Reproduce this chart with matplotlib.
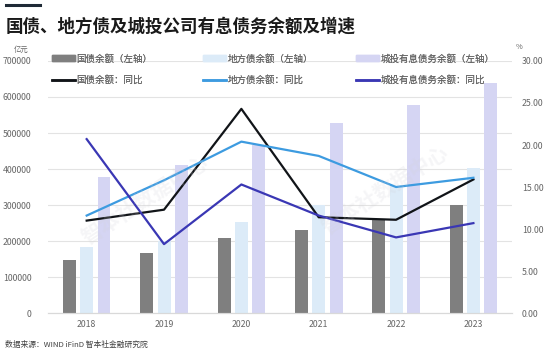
import numpy as np
import matplotlib
matplotlib.use("Agg")
import matplotlib.pyplot as plt
from matplotlib.lines import Line2D
from matplotlib.patches import Patch

plt.rcParams['font.family'] = ['Noto Sans CJK SC', 'DejaVu Sans']

# data
years = ['2018', '2019', '2020', '2021', '2022', '2023']
guozhai = [148000, 167000, 208000, 231000, 257000, 299000]        # 国债余额
difang = [183000, 200000, 254000, 299000, 352000, 404000]         # 地方债余额
chengtou = [377000, 410000, 466000, 529000, 577000, 638000]       # 城投有息债务余额
guozhai_yoy = [11.0, 12.3, 24.3, 11.4, 11.1, 15.9]
difang_yoy = [11.6, 15.8, 20.4, 18.7, 15.0, 16.1]
chengtou_yoy = [20.7, 8.2, 15.3, 11.6, 9.0, 10.7]

c_gz, c_df, c_ct = '#7f7f7f', '#dcebf8', '#d5d5f3'
l_gz, l_df, l_ct = '#111418', '#3d9be0', '#3a37b4'
txt = '#666666'

fig = plt.figure(figsize=(5.53, 3.53), dpi=100)
ax = fig.add_axes([0.0868, 0.1133, 0.8392, 0.7139])
ax2 = ax.twinx()

x = np.arange(len(years))
w = 0.168
off = 0.224
ax.bar(x - off, guozhai, w, color=c_gz, zorder=2)
ax.bar(x, difang, w, color=c_df, zorder=2)
ax.bar(x + off, chengtou, w, color=c_ct, zorder=2)

ax.set_ylim(0, 700000)
ax.set_xlim(-0.5, len(years) - 0.5)
ax.set_yticks(np.arange(0, 700001, 100000))
ax.set_yticklabels([f'{v:d}' for v in range(0, 700001, 100000)])
ax.set_xticks(x)
ax.set_xticklabels(years)
ax.grid(axis='y', color='#e3e3e3', lw=0.8, zorder=0)
ax.set_axisbelow(True)

ax2.plot(x, guozhai_yoy, color=l_gz, lw=1.6, zorder=3)
ax2.plot(x, difang_yoy, color=l_df, lw=1.6, zorder=3)
ax2.plot(x, chengtou_yoy, color=l_ct, lw=1.6, zorder=3)
ax2.set_ylim(0, 30)
ax2.set_yticks(np.arange(0, 31, 5))
ax2.set_yticklabels([f'{v:.2f}' for v in range(0, 31, 5)])

for a in (ax, ax2):
    for s in ('top', 'left', 'right'):
        a.spines[s].set_visible(False)
    a.spines['bottom'].set_color('#d9d9d9')
    a.tick_params(length=0, labelsize=6.3, labelcolor=txt)
ax.tick_params(axis='y', pad=12)
ax2.tick_params(axis='y', pad=7)
ax.tick_params(axis='x', pad=5)

# legends: one per column, bar above line
bar_h = [Patch(color=c_gz), Patch(color=c_df), Patch(color=c_ct)]
line_h = [Line2D([], [], color=l_gz, lw=1.8), Line2D([], [], color=l_df, lw=1.8),
          Line2D([], [], color=l_ct, lw=1.8)]
bar_lab = ['国债余额（左轴）', '地方债余额（左轴）', '城投有息债务余额（左轴）']
line_lab = ['国债余额：同比', '地方债余额：同比', '城投有息债务余额：同比']
x_pos = [52, 203, 356]
for i in range(3):
    leg = fig.legend([bar_h[i], line_h[i]], [bar_lab[i], line_lab[i]],
                     loc='upper left', bbox_to_anchor=(x_pos[i] / 553, 1 - 54 / 353),
                     frameon=False, fontsize=6.8, handlelength=2.4, handleheight=0.55,
                     handletextpad=0.2, labelspacing=1.25, borderaxespad=0, borderpad=0)
    for t in leg.get_texts():
        t.set_color(txt)
    fig.add_artist(leg)

# title and notes
fig.add_artist(Line2D([6 / 553, 40 / 553], [1 - 5 / 353, 1 - 5 / 353], color='#1f2a36', lw=2.2))
fig.text(6 / 553, 1 - 27 / 353, '国债、地方债及城投公司有息债务余额及增速', fontsize=12.6,
         fontweight='bold', color='#1a1a1a', va='center')
fig.text(21 / 553, 1 - 50 / 353, '亿元', fontsize=5.3, color=txt, ha='center', va='center')
fig.text(519 / 553, 1 - 47 / 353, '%', fontsize=5.3, color=txt, ha='center', va='center')
fig.text(5 / 553, 1 - 345 / 353, '数据来源：WIND iFinD 智本社金融研究院', fontsize=5.6,
         color='#404040', va='center')

# faint watermark
for cx, cy in [(145, 200), (385, 190)]:
    fig.text(cx / 553, 1 - cy / 353, '智本社数据中心', fontsize=15, color='#d0d0d8', alpha=0.2,
             rotation=33, ha='center', va='center', fontweight='bold')

fig.savefig('out.png', dpi=100)
